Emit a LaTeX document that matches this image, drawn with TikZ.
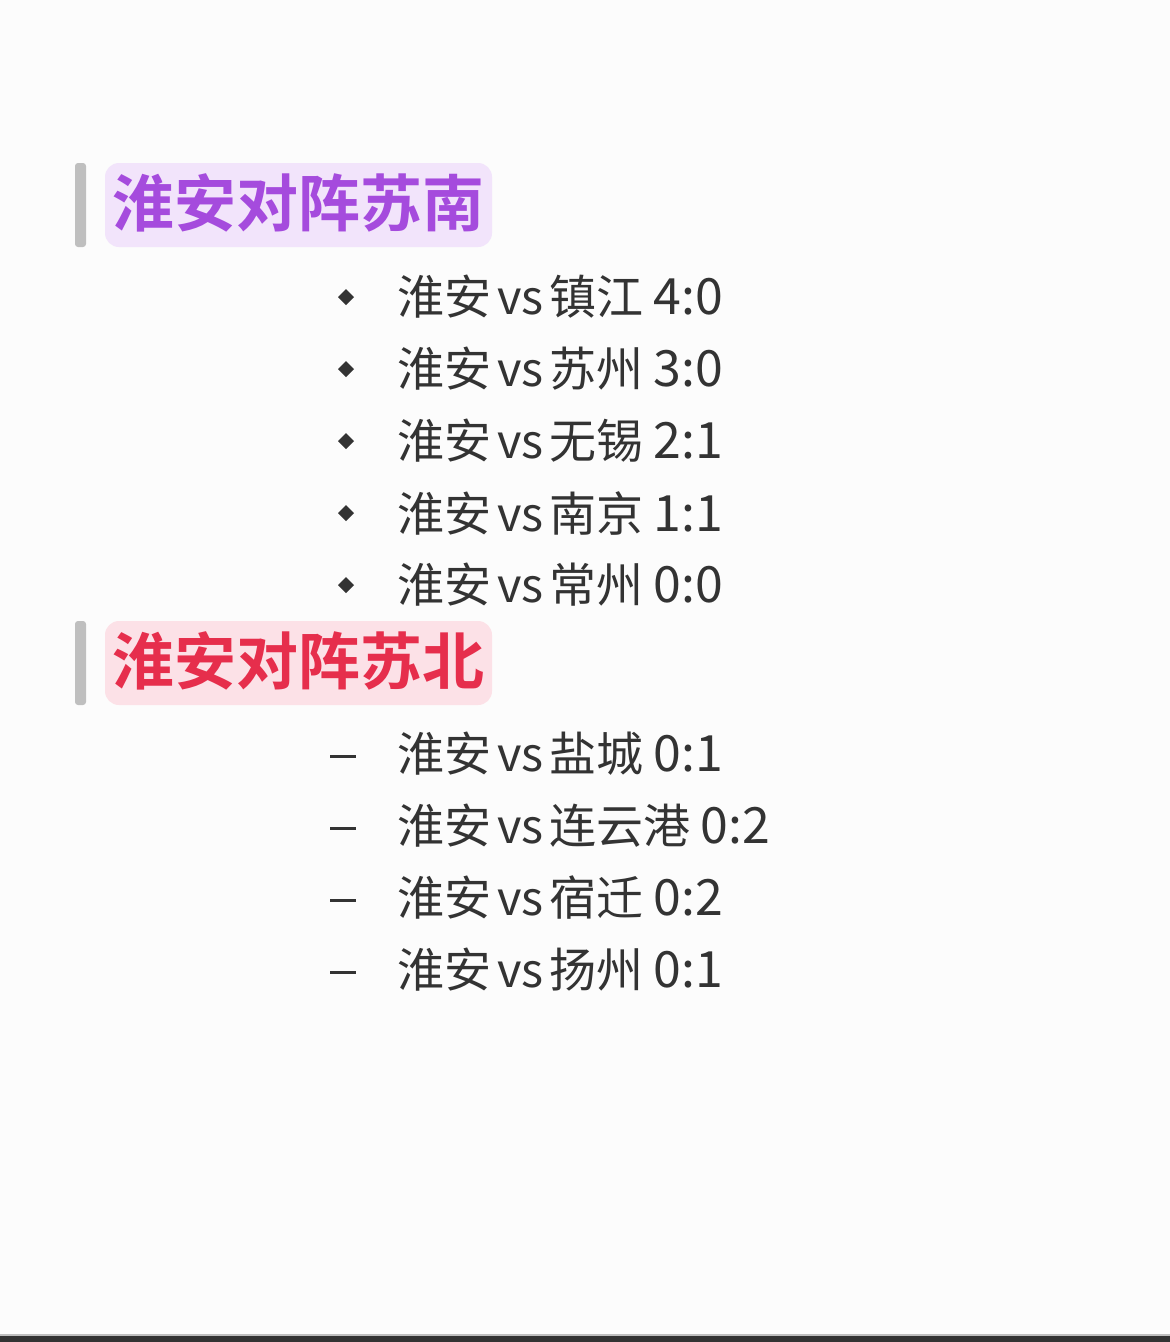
\documentclass[tikz,border=0pt]{standalone}
\usepackage{fontspec}
\newfontfamily\cjk{Noto Sans CJK SC}
\newfontfamily\cjkb{Noto Sans CJK SC Bold}
\definecolor{txt}{HTML}{333333}
\definecolor{purp}{HTML}{A54BDD}
\definecolor{purpbg}{HTML}{F2E4FB}
\definecolor{redt}{HTML}{E62E4C}
\definecolor{redbg}{HTML}{FCE1E7}
\newcommand{\mrow}[3]{#1\hspace{6pt}vs\hspace{6pt}#2\hspace{10pt}{\fontsize{50}{50}\selectfont #3}}
\begin{document}
\begin{tikzpicture}[x=1pt,y=-1pt,
  item/.style={anchor=west,inner sep=0,text=txt,font=\cjk\fontsize{47}{50}\selectfont},
  head/.style={anchor=west,inner sep=0,font=\cjkb\fontsize{62}{66}\selectfont}]
\fill[white!99!black] (0,0) rectangle (1170,1342);
\useasboundingbox (0,0) rectangle (1170,1342);
\fill[black!80] (0,1336) rectangle (1170,1342);
\fill[black!25] (0,1334) rectangle (1170,1336);
% heading 1
\fill[black!25,rounded corners=3pt] (75,163) rectangle (86,247);
\fill[purpbg,rounded corners=14pt] (105,163) rectangle (492,247);
\node[head,text=purp] (h1) at (112,203) {淮安对阵苏南};
% heading 2
\fill[black!25,rounded corners=3pt] (75,621) rectangle (86,705);
\fill[redbg,rounded corners=14pt] (105,621) rectangle (492,705);
\node[head,text=redt] (h2) at (112,661) {淮安对阵苏北};
% items
\foreach \y/\c/\s [count=\i] in {297/镇江/4:0,369/苏州/3:0,441/无锡/2:1,513/南京/1:1,585/常州/0:0}{
  \fill[txt] (346,\y-8) -- (354,\y) -- (346,\y+8) -- (338,\y) -- cycle;
  \node[item] (a\i) at (397,\y) {\mrow{淮安}{\c}{\s}};
}
\foreach \y/\c/\s [count=\i] in {754/盐城/0:1,826/连云港/0:2,898/宿迁/0:2,970/扬州/0:1}{
  \fill[txt] (330,\y+1) rectangle (356,\y+4);
  \node[item] (b\i) at (397,\y) {\mrow{淮安}{\c}{\s}};
}
\end{tikzpicture}
\end{document}
